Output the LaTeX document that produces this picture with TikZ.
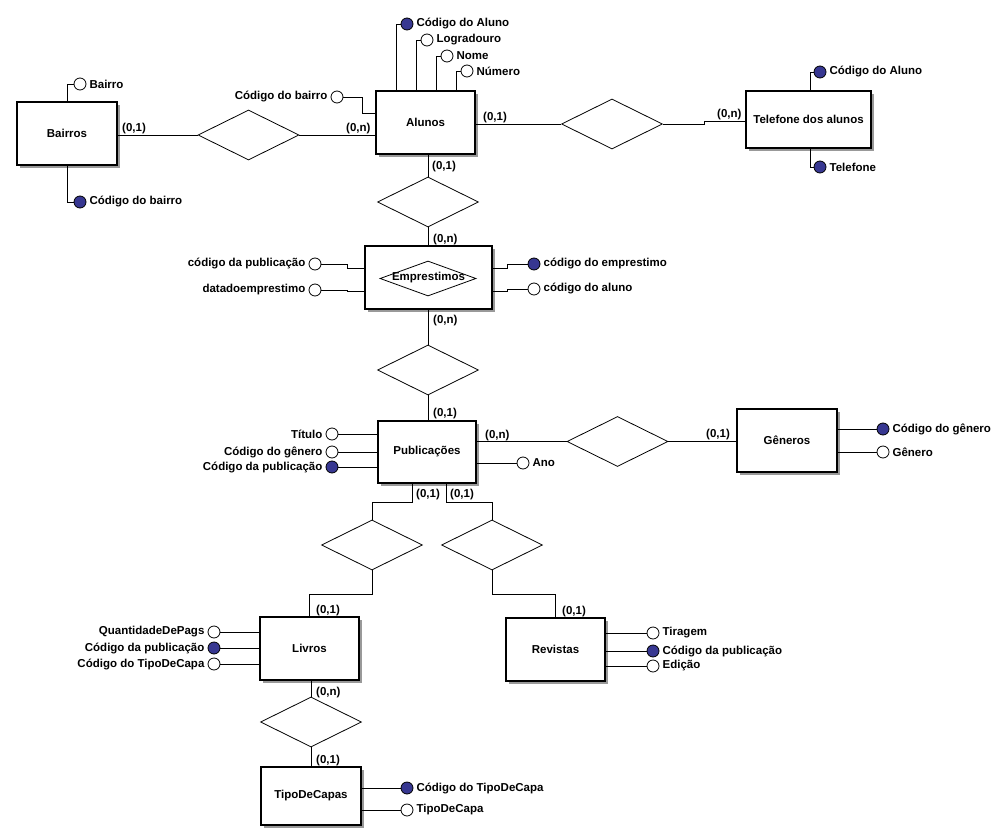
\documentclass[tikz,border=0pt]{standalone}
\usepackage{fontspec}
\setmainfont{Liberation Sans}
\usetikzlibrary{shapes.geometric,calc,shadows}
\definecolor{keyfill}{RGB}{55,55,145}
\begin{document}
\begin{tikzpicture}[x=1pt,y=-1pt,
  every node/.style={font=\fontsize{11.5}{13}\selectfont\bfseries},
  every label/.style={inner sep=0pt},
  label distance=3pt,
  entity/.style={draw,line width=1.2pt,fill=white,inner sep=0pt,
    drop shadow={shadow xshift=3pt,shadow yshift=-3pt,fill=black!40,opacity=1}},
  rel/.style={diamond,draw,line width=0.8pt,fill=white,inner sep=0pt,
    minimum width=101pt,minimum height=50pt},
  attr/.style={circle,draw,line width=0.8pt,fill=white,inner sep=0pt,minimum size=12pt},
  key/.style={attr,fill=keyfill},
  card/.style={anchor=west,inner sep=0pt},
  link/.style={line width=0.9pt}
]
\fill[white] (0,0) rectangle (1003,837);
\useasboundingbox (0,0) rectangle (1003,837);

% entities
\node[entity,minimum width=100pt,minimum height=63pt] (bairros) at (67,133.5) {Bairros};
\node[entity,minimum width=99pt,minimum height=63pt] (alunos) at (425.5,122.5) {Alunos};
\node[entity,minimum width=125pt,minimum height=57pt] (tel) at (808.5,119.5) {Telefone dos alunos};
\node[entity,minimum width=127pt,minimum height=63pt] (emp) at (428.5,277.5) {Emprestimos};
\node[diamond,draw,line width=0.8pt,inner sep=0pt,minimum width=96pt,minimum height=35pt] (empd) at (428,278.5) {};
\node[entity,minimum width=98pt,minimum height=62pt] (pub) at (427,452) {Publicações};
\node[entity,minimum width=100pt,minimum height=63pt] (gen) at (787,440.5) {Gêneros};
\node[entity,minimum width=99pt,minimum height=63pt] (liv) at (309.5,648.5) {Livros};
\node[entity,minimum width=99pt,minimum height=63pt] (rev) at (555.5,649.5) {Revistas};
\node[entity,minimum width=100pt,minimum height=58pt] (tdc) at (311,796) {TipoDeCapas};

% relationships
\node[rel] (r1) at (248.5,135) {};
\node[rel] (r2) at (612,124) {};
\node[rel] (r3) at (428,202) {};
\node[rel] (r4) at (428,370) {};
\node[rel] (r5) at (617.5,441.5) {};
\node[rel] (r6) at (372,545) {};
\node[rel] (r7) at (492,545) {};
\node[rel] (r8) at (311,722) {};

% relationship links
\draw[link] (bairros.east |- r1.west) -- (r1.west);
\draw[link] (r1.east) -- (r1.east -| alunos.west);
\draw[link] (alunos.east |- r2.west) -- (r2.west);
\draw[link] (r2.east) -- ++(42,0) -- ++(0,-3) coordinate (t) -- (t -| tel.west);
\draw[link] (alunos.south -| r3.north) -- (r3.north);
\draw[link] (r3.south) -- (r3.south |- emp.north);
\draw[link] (emp.south -| r4.north) -- (r4.north);
\draw[link] (r4.south) -- (r4.south |- pub.north);
\draw[link] (pub.east |- r5.west) -- (r5.west);
\draw[link] (r5.east) -- (r5.east -| gen.west);
\draw[link] ($(pub.south)+(-15,0)$) |- ($(r6.north)+(0,-17)$) -- (r6.north);
\draw[link] ($(pub.south)+(19,0)$) |- ($(r7.north)+(0,-17)$) -- (r7.north);
\draw[link] (r6.south) -- ++(0,24) -| (liv.north);
\draw[link] (r7.south) -- ++(0,24) -| (rev.north);
\draw[link] (liv.south -| r8.north) -- (r8.north);
\draw[link] (r8.south) -- (r8.south |- tdc.north);

% cardinalities
\node[card] (k1) at (122,129) {(0,1)};
\node[card] (k2) at (346,129) {(0,n)};
\node[card] (k3) at (483,118) {(0,1)};
\node[card] (k4) at (717,115) {(0,n)};
\node[card] (k5) at (432,167) {(0,1)};
\node[card] (k6) at (433,240) {(0,n)};
\node[card] (k7) at (433,321) {(0,n)};
\node[card] (k8) at (433,414) {(0,1)};
\node[card] (k9) at (485,436) {(0,n)};
\node[card] (k10) at (706,435) {(0,1)};
\node[card] (k11) at (416,495) {(0,1)};
\node[card] (k12) at (450,495) {(0,1)};
\node[card] (k13) at (316,611) {(0,1)};
\node[card] (k14) at (562,612) {(0,1)};
\node[card] (k15) at (316,693) {(0,n)};
\node[card] (k16) at (316,761) {(0,1)};

% attributes of Bairros
\node[attr,label=right:Bairro] (b1) at (80,84) {};
\node[key,label=right:Código do bairro] (b2) at (80,202) {};
\draw[link] (b1.west) -| (bairros.north);
\draw[link] (b2.west) -| (bairros.south);

% attributes of Alunos
\node[key,label=right:Código do Aluno] (a1) at (407,24) {};
\node[attr,label=right:Logradouro] (a2) at (427,40) {};
\node[attr,label=right:Nome] (a3) at (447,56) {};
\node[attr,label=right:Número] (a4) at (467,71) {};
\node[attr,label=left:Código do bairro] (a5) at (337,97) {};
\foreach \att in {a1,a2,a3,a4}
  \draw[link] (\att.west) -- ++(-4,0) coordinate (t) -- (t |- alunos.north);
\draw[link] (a5.east) -- ++(19,0) -- ++(0,16) coordinate (t) -- (t -| alunos.west);

% attributes of Telefone dos alunos
\node[key,label=right:Código do Aluno] (t1) at (820,72) {};
\node[key,label=right:Telefone] (t2) at (820,167) {};
\draw[link] (t1.west) -- ++(-3,0) coordinate (t) -- (t |- tel.north);
\draw[link] (t2.west) -- ++(-3,0) coordinate (t) -- (t |- tel.south);

% attributes of Emprestimos
\node[attr,label=left:código da publicação] (e1) at (315,264) {};
\node[attr,label=left:datadoemprestimo] (e2) at (315,290) {};
\node[key,label=right:código do emprestimo] (e3) at (534,264) {};
\node[attr,label=right:código do aluno] (e4) at (534,289) {};
\draw[link] (e1.east) -- ++(26,0) -- ++(0,4) coordinate (t) -- (t -| emp.west);
\draw[link] (e2.east) -- ++(26,0) -- ++(0,1) coordinate (t) -- (t -| emp.west);
\draw[link] (e3.west) -- ++(-20,0) -- ++(0,4) coordinate (t) -- (t -| emp.east);
\draw[link] (e4.west) -- ++(-20,0) -- ++(0,2) coordinate (t) -- (t -| emp.east);

% attributes of Publicações
\node[attr,label=left:Título] (p1) at (332,434) {};
\node[attr,label=left:Código do gênero] (p2) at (332,452) {};
\node[key,label=left:Código da publicação] (p3) at (332,467) {};
\node[attr,label=right:Ano] (p4) at (523,463) {};
\foreach \att in {p1,p2,p3}
  \draw[link] (\att.east) -- (\att -| pub.west);
\draw[link] (p4.west) -- (p4 -| pub.east);

% attributes of Gêneros
\node[key,label=right:Código do gênero] (g1) at (883,429) {};
\node[attr,label=right:Gênero] (g2) at (883,452) {};
\foreach \att in {g1,g2}
  \draw[link] (\att.west) -- (\att -| gen.east);

% attributes of Livros
\node[attr,label=left:QuantidadeDePags] (l1) at (214,632) {};
\node[key,label=left:Código da publicação] (l2) at (214,648) {};
\node[attr,label=left:Código do TipoDeCapa] (l3) at (214,664) {};
\foreach \att in {l1,l2,l3}
  \draw[link] (\att.east) -- (\att -| liv.west);

% attributes of Revistas
\node[attr,label=right:Tiragem] (v1) at (653,633) {};
\node[key,label=right:Código da publicação] (v2) at (653,651) {};
\node[attr,label=right:Edição] (v3) at (653,666) {};
\foreach \att in {v1,v2,v3}
  \draw[link] (\att.west) -- (\att -| rev.east);

% attributes of TipoDeCapas
\node[key,label=right:Código do TipoDeCapa] (c1) at (407,788) {};
\node[attr,label=right:TipoDeCapa] (c2) at (407,810) {};
\foreach \att in {c1,c2}
  \draw[link] (\att.west) -- (\att -| tdc.east);
\end{tikzpicture}
\end{document}
